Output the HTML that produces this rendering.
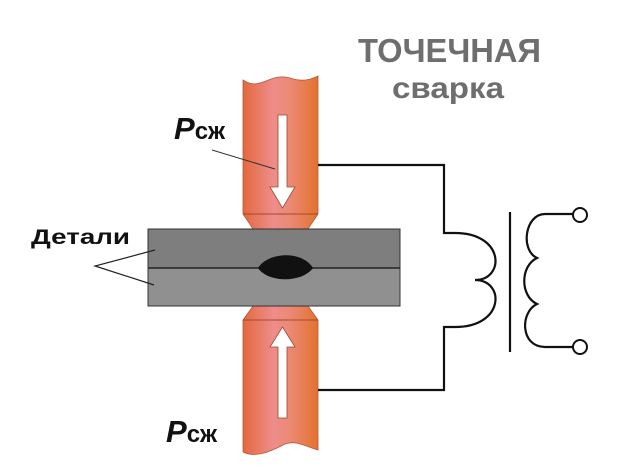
<!DOCTYPE html>
<html><head><meta charset="utf-8"><style>html,body{margin:0;padding:0;background:#fff;width:620px;height:473px;overflow:hidden}</style></head>
<body>
<svg width="620" height="473" viewBox="0 0 620 473" xmlns="http://www.w3.org/2000/svg">
<defs>
<linearGradient id="g" x1="0" x2="1" y1="0" y2="0">
<stop offset="0" stop-color="#e4683e"/><stop offset="0.4" stop-color="#ee8c8a"/><stop offset="0.6" stop-color="#ec8a78"/><stop offset="1" stop-color="#e3722f"/>
</linearGradient>
</defs>
<path d="M243,80 C260,92 270,72 290,78 C302,82 310,80 318,76 L318,214 L308,229 L253,229 L243,214 Z" fill="url(#g)" stroke="#b05a3a" stroke-width="0.8"/>
<line x1="243" y1="214" x2="318" y2="214" stroke="#a04a30" stroke-width="1"/>
<path d="M253,306 L308,306 L318,320 L318,450 C305,446 295,440 285,444 C270,452 255,458 243,452 L243,320 Z" fill="url(#g)" stroke="#b05a3a" stroke-width="0.8"/>
<line x1="243" y1="320" x2="318" y2="320" stroke="#a04a30" stroke-width="1"/>
<rect x="148" y="229" width="252" height="39" fill="#7e7e7e" stroke="#333" stroke-width="1"/>
<rect x="148" y="268" width="252" height="38" fill="#909090" stroke="#333" stroke-width="1"/>
<line x1="148" y1="268" x2="400" y2="268" stroke="#222" stroke-width="1.5"/>
<path d="M258,268 C268,252 302,250 313,268 C302,283 268,283 258,268 Z" fill="#111"/>
<path d="M278,115 L287,115 L287,187 L295,187 L282.5,208 L270,187 L278,187 Z" fill="#fff" stroke="#9a4a30" stroke-width="0.8"/>
<path d="M278,418 L287,418 L287,347 L295,347 L282.5,327 L270,347 L278,347 Z" fill="#fff" stroke="#9a4a30" stroke-width="0.8"/>
<line x1="212" y1="150" x2="275" y2="169" stroke="#333" stroke-width="1"/>
<polyline points="155,250 95,266 154,285" fill="none" stroke="#222" stroke-width="1.2"/>
<g fill="none" stroke="#111" stroke-width="2.2">
<polyline points="318,165 444,165 444,233 455,233"/>
<path d="M455,233 C505,233 505,280 475,280 C505,280 505,327 455,327"/>
<polyline points="455,327 444,327 444,390 318,390"/>
<line x1="510" y1="212" x2="510" y2="352"/>
<path d="M573,214 L545,214 C525,214 520,250 537,258 C520,266 520,296 537,304 C520,312 520,347 545,347 L573,347"/>
</g>
<circle cx="580" cy="215" r="7" fill="#fff" stroke="#111" stroke-width="2"/>
<circle cx="580" cy="347" r="7" fill="#fff" stroke="#111" stroke-width="2"/>
<g font-family="Liberation Sans, sans-serif" font-weight="bold">
<text x="358" y="62" font-size="33" fill="#6e6e6e" textLength="183" lengthAdjust="spacingAndGlyphs">ТОЧЕЧНАЯ</text>
<text x="392" y="98" font-size="30" fill="#6e6e6e" textLength="112" lengthAdjust="spacingAndGlyphs">сварка</text>
<text x="31" y="244" font-size="21" fill="#111" textLength="99" lengthAdjust="spacingAndGlyphs">Детали</text>
<text x="174" y="139" fill="#111"><tspan font-size="31" font-style="italic">P</tspan><tspan font-size="24">сж</tspan></text>
<text x="166" y="442" fill="#111"><tspan font-size="31" font-style="italic">P</tspan><tspan font-size="24">сж</tspan></text>
</g>
</svg>
</body></html>
